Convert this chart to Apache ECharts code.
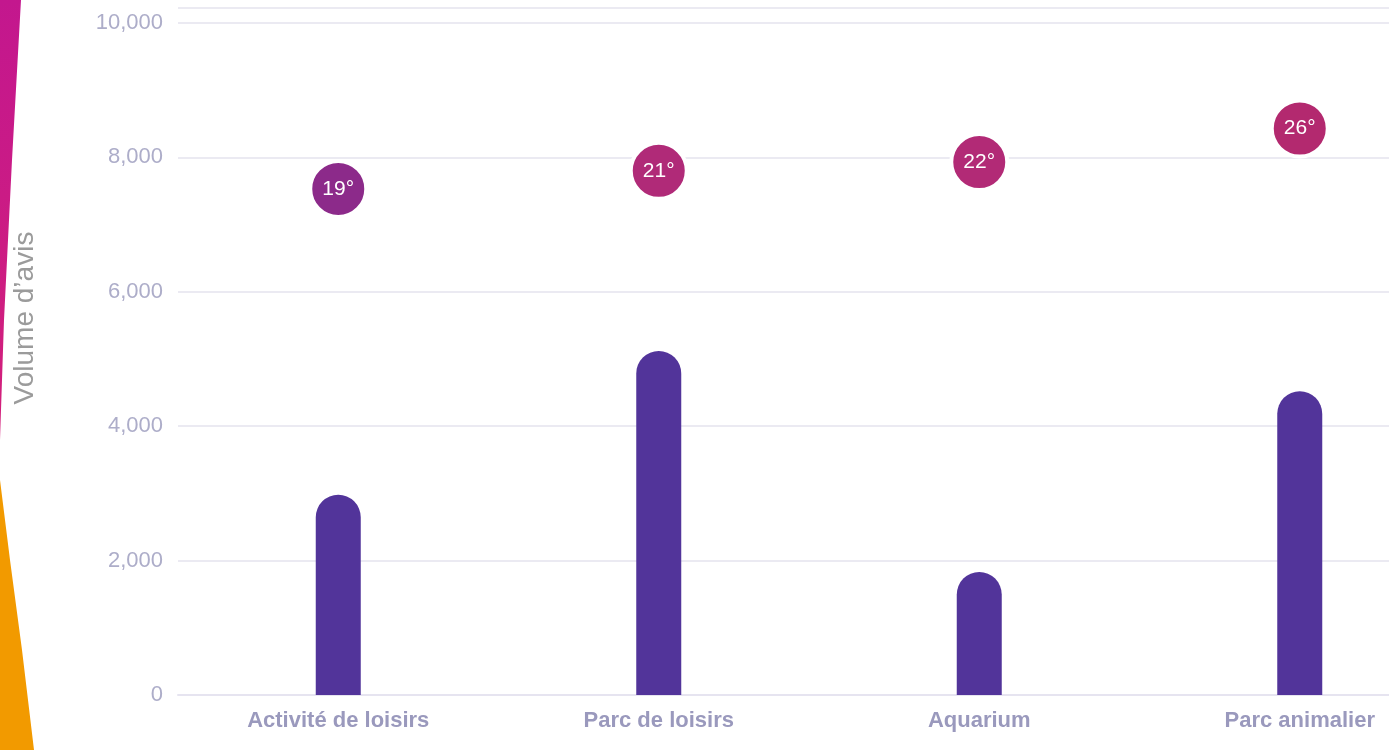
<!DOCTYPE html>
<html>
<head>
<meta charset="utf-8">
<script src="https://cdn.jsdelivr.net/npm/echarts@6/dist/echarts.min.js"></script>
<style>
  html, body { margin: 0; padding: 0; background: #ffffff; }
  #chart { width: 1389px; height: 750px; }
</style>
</head>
<body>
<div id="chart"></div>
<script>
// Categories and values
const categories = ['Activité de loisirs', 'Parc de loisirs', 'Aquarium', 'Parc animalier'];
const reviewVolumes = [2980, 5120, 1830, 4520];
const bubbleLevels = [7530, 7800, 7930, 8430];
const temperatures = [19, 21, 22, 26];
const bubbleColors = ['#8c2a8a', '#b02a78', '#b22a76', '#b3296f'];
const yTicks = { min: 0, max: 10000, interval: 2000 };

const chart = echarts.init(document.getElementById('chart'));

const font = 'Liberation Sans, Arial, Helvetica, sans-serif';

chart.setOption({
  animation: false,
  backgroundColor: '#ffffff',
  graphic: [
    // left decorative bands
    {
      type: 'polygon',
      shape: { points: [[0, 0], [21, 0], [12, 160], [4, 320], [0, 440]] },
      style: {
        fill: new echarts.graphic.LinearGradient(0, 0, 0, 1, [
          { offset: 0, color: '#c3178e' },
          { offset: 1, color: '#d3207a' }
        ])
      },
      z: 10
    },
    {
      type: 'polygon',
      shape: { points: [[0, 480], [10, 560], [22, 650], [34, 750], [0, 750]] },
      style: { fill: '#f29a00' },
      z: 10
    },
    // top rule
    {
      type: 'line',
      shape: { x1: 178, y1: 8, x2: 1389, y2: 8 },
      style: { stroke: '#ebeaf2', lineWidth: 2 },
      z: 1
    },
    // y axis title
    {
      type: 'text',
      x: 25,
      y: 318,
      rotation: Math.PI / 2,
      style: {
        text: 'Volume d\u2019avis',
        font: '28px ' + font,
        fill: '#9b9b9b',
        align: 'center',
        verticalAlign: 'middle'
      },
      z: 10
    }
  ],
  grid: {
    left: 178,
    top: 23,
    width: 1282,
    height: 672,
    containLabel: false,
    outerBoundsMode: 'none'
  },
  xAxis: {
    type: 'category',
    data: categories,
    axisLine: { show: true, lineStyle: { color: '#e6e4f0', width: 2 } },
    axisTick: { show: false },
    axisLabel: {
      color: '#9a99bd',
      fontFamily: font,
      fontSize: 22,
      fontWeight: 'bold',
      margin: 15
    }
  },
  yAxis: {
    type: 'value',
    min: yTicks.min,
    max: yTicks.max,
    interval: yTicks.interval,
    axisLine: { show: false },
    axisTick: { show: false },
    axisLabel: {
      color: '#adadc9',
      fontFamily: font,
      fontSize: 22,
      margin: 15,
      formatter: v => v.toLocaleString('en-US')
    },
    splitLine: { lineStyle: { color: '#ebeaf2', width: 2 } }
  },
  series: [
    {
      type: 'bar',
      data: reviewVolumes,
      barWidth: 45,
      itemStyle: { color: '#52349a', borderRadius: [22.5, 22.5, 0, 0] },
      z: 3
    },
    {
      type: 'scatter',
      data: bubbleLevels.map((v, i) => ({
        value: v,
        itemStyle: { color: bubbleColors[i] },
        label: { formatter: temperatures[i] + '°' }
      })),
      symbol: 'circle',
      symbolSize: 56,
      itemStyle: { borderColor: '#ffffff', borderWidth: 4, opacity: 1 },
      label: {
        show: true,
        position: 'inside',
        color: '#ffffff',
        fontFamily: font,
        fontSize: 21
      },
      z: 4
    }
  ]
});
</script>
</body>
</html>
